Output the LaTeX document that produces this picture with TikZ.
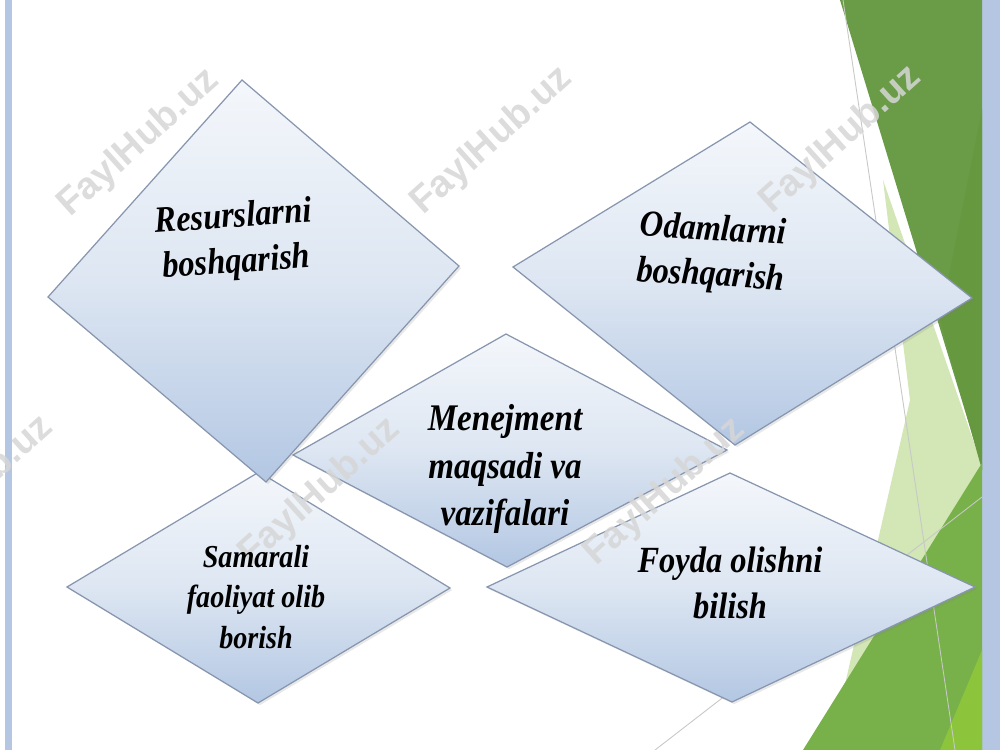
\documentclass[tikz,border=0pt]{standalone}
\usepackage{fontspec}
\setmainfont{Liberation Serif}
\newfontfamily\diafont[FakeStretch=0.88]{Liberation Serif}
\newfontfamily\markfont{Liberation Sans}
\newcommand\diasize[2]{\diafont\bfseries\itshape\fontsize{#1}{#2}\selectfont}
\usetikzlibrary{shadows}
\definecolor{slideblue}{HTML}{B4C6E2}
\definecolor{rhtop}{HTML}{F4F7FB}
\definecolor{rhmid}{HTML}{DDE6F2}
\definecolor{rhbot}{HTML}{B3C7E3}
\definecolor{rhedge}{HTML}{8796AE}
\definecolor{darkleaf}{HTML}{6A9B47}
\definecolor{darkleafb}{HTML}{66983F}
\definecolor{paleleaf}{HTML}{D3E6B6}
\definecolor{midleaf}{HTML}{78B04A}
\definecolor{limeleaf}{HTML}{8CC43C}
\definecolor{facetline}{HTML}{C6C9C6}
\definecolor{markgray}{HTML}{D6D6D6}
\tikzset{
	rhomb/.style={draw=rhedge, line width=0.7pt, top color=rhtop, bottom color=rhbot, middle color=rhmid,
		drop shadow={opacity=0.18, shadow xshift=1.2pt, shadow yshift=-1.2pt}},
	lbl/.style={align=center, inner sep=0pt},
	wmark/.style={font=\markfont\bfseries\fontsize{21.5}{22}\selectfont, text=markgray, rotate=42, opacity=0.85},
}
\begin{document}
\begin{tikzpicture}[x=0.02cm, y=-0.02cm]
		\useasboundingbox (0,0) rectangle (1000,750);
		\clip (0,0) rectangle (1000,750);
		% slide
		\fill[white] (0,0) rectangle (1000,750);
		\fill[slideblue] (5,0) rectangle (12,750);
		\fill[slideblue] (982,0) rectangle (1000,750);
		\fill[paleleaf] (883,180) -- (980,460) -- (982,750) -- (830,750) -- (910,400) -- cycle;
		\fill[darkleaf] (840,0) -- (982,0) -- (982,470) -- (980,460) -- cycle;
		\fill[darkleafb] (982,110) -- (982,470) -- (940,320) -- cycle;
		\fill[midleaf] (982,463) -- (982,750) -- (803,750) -- cycle;
		\fill[limeleaf] (982,650) -- (982,750) -- (940,750) -- cycle;
		\draw[facetline, line width=0.5pt] (843,0) -- (955,750);
		\draw[facetline, line width=0.5pt] (982,497) -- (655,750);
		% rhombi
		\path[rhomb] (506,334) -- (727,450) -- (507,567) -- (293,455) -- cycle;
		\path[rhomb] (259,472) -- (450,588) -- (258,703) -- (67,587) -- cycle;
		\path[rhomb] (730,473) -- (975,587) -- (732,702) -- (487,587) -- cycle;
		\path[rhomb] (750,122) -- (972,298) -- (735,445) -- (513,267) -- cycle;
		\path[rhomb] (242,80) -- (459,266) -- (266,482) -- (48,297) -- cycle;
		% watermark
		\foreach \wx/\wy [count=\i] in {139/143, 492/141, 841/140, -27/490, 320/492, 665/492}
			\node[wmark] (wm\i) at (\wx,\wy) {FaylHub.uz};
		% labels
		\node[lbl, font=\diasize{21}{26}, rotate=4] (resurs) at (235,241) {Resurslarni\\boshqarish};
		\node[lbl, font=\diasize{21}{26}, rotate=-3.5] (odam) at (712,254) {Odamlarni\\boshqarish};
		\node[lbl, font=\diasize{21.4}{27}] (menej) at (505,469) {Menejment\\maqsadi va\\vazifalari};
		\node[lbl, font=\diasize{18.2}{23}] (samar) at (256,597) {Samarali\\faoliyat olib\\borish};
		\node[lbl, font=\diasize{21}{26}] (foyda) at (730,583) {Foyda olishni\\bilish};
	\end{tikzpicture}
\end{document}
